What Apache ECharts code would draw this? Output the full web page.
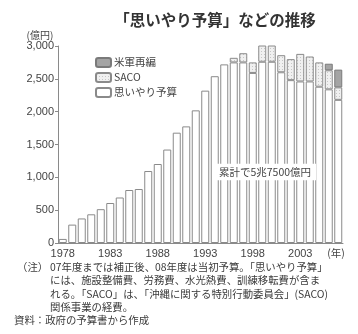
<!DOCTYPE html>
<html>
<head>
<meta charset="utf-8">
<script src="https://cdn.jsdelivr.net/npm/echarts@6/dist/echarts.min.js"></script>
<style>
  html, body { margin: 0; padding: 0; background: #fff; }
  #chart { width: 358px; height: 334px; }
</style>
</head>
<body>
<div id="chart"></div>
<script>
// Fiscal years shown on the category axis
const years = ['1978','1979','1980','1981','1982','1983','1984','1985','1986','1987',
               '1988','1989','1990','1991','1992','1993','1994','1995','1996','1997',
               '1998','1999','2000','2001','2002','2003','2004','2005','2006','2007'];

// 思いやり予算 (億円)
const omoiyari = [62, 280, 374, 437, 515, 609, 693, 807, 822, 1096,
                  1203, 1423, 1680, 1776, 2020, 2320, 2540, 2720, 2750, 2750,
                  2590, 2760, 2760, 2600, 2480, 2460, 2460, 2380, 2340, 2180];

// SACO関係経費 (億円)
const saco = ['-', '-', '-', '-', '-', '-', '-', '-', '-', '-',
              '-', '-', '-', '-', '-', '-', '-', '-', 70, 140,
              160, 250, 270, 260, 320, 420, 380, 370, 290, 190];

// 米軍再編関係経費 (億円)
const saihen = ['-', '-', '-', '-', '-', '-', '-', '-', '-', '-',
                '-', '-', '-', '-', '-', '-', '-', '-', '-', '-',
                '-', '-', '-', '-', '-', '-', '-', '-', 100, 270];

const yTicks = { min: 0, max: 3000, step: 500 };

const notes = [
  '07年度までは補正後、08年度は当初予算。「思いやり予算」',
  'には、施設整備費、労務費、水光熱費、訓練移転費が含ま',
  'れる。「SACO」は、「沖縄に関する特別行動委員会」(SACO)',
  '関係事業の経費。'
];

const JP = '"Noto Sans CJK JP", "Noto Sans", sans-serif';
const NUM = '"Liberation Sans", Arial, sans-serif';
const edge = '#8a8a8a';

// Stippled fill for the SACO segments
function stipple() {
  const c = document.createElement('canvas');
  c.width = 3; c.height = 3;
  const g = c.getContext('2d');
  g.fillStyle = '#f0f0f0';
  g.fillRect(0, 0, 3, 3);
  g.fillStyle = '#c6c6c6';
  g.fillRect(0, 0, 1, 1);
  return { image: c, repeat: 'repeat' };
}

const chart = echarts.init(document.getElementById('chart'), null, { renderer: 'canvas' });

const noteGraphics = notes.map((line, i) => ({
  type: 'text', left: 50, top: 262 + i * 13.3, z: 100,
  style: { text: line, fill: '#3a3a3a', font: '10.4px ' + JP }
}));

chart.setOption({
  animation: false,
  backgroundColor: '#fff',
  grid: { left: 58, right: 15, top: 46, bottom: 91 },
  legend: {
    orient: 'vertical', left: 90, top: 52,
    itemWidth: 15, itemHeight: 9, itemGap: 4,
    data: ['米軍再編', 'SACO', '思いやり予算'],
    textStyle: { fontFamily: JP, fontSize: 10.5, color: '#444', padding: [0, 0, 0, -2] }
  },
  xAxis: {
    type: 'category', data: years,
    axisLine: { lineStyle: { color: edge, width: 1 } },
    axisTick: { show: false },
    axisLabel: { interval: 4, margin: 5, fontFamily: NUM, fontSize: 11, color: '#444' }
  },
  yAxis: {
    type: 'value', min: yTicks.min, max: yTicks.max, interval: yTicks.step,
    axisLine: { show: true, lineStyle: { color: edge, width: 1 } },
    axisTick: { show: true, length: 3, lineStyle: { color: edge } },
    splitLine: { show: false },
    axisLabel: {
      margin: 4, fontFamily: NUM, fontSize: 11, color: '#444',
      formatter: v => v.toLocaleString('en-US')
    }
  },
  series: [
    {
      name: '思いやり予算', type: 'bar', stack: 'total', data: omoiyari, barWidth: 8,
      itemStyle: { color: '#ffffff', borderColor: edge, borderWidth: 1 }
    },
    {
      name: 'SACO', type: 'bar', stack: 'total', data: saco, barWidth: 8,
      itemStyle: { color: stipple(), borderColor: edge, borderWidth: 1 }
    },
    {
      name: '米軍再編', type: 'bar', stack: 'total', data: saihen, barWidth: 8,
      itemStyle: { color: '#a4a4a4', borderColor: '#7a7a7a', borderWidth: 1 }
    }
  ],
  graphic: [
    {
      type: 'text', x: 215, y: 20, z: 100,
      style: { text: '「思いやり予算」などの推移', fill: '#333', font: 'bold 15.5px ' + JP,
               textAlign: 'center', textVerticalAlign: 'middle' }
    },
    {
      type: 'text', x: 40, y: 35, z: 100,
      style: { text: '(億円)', fill: '#444', font: '10px ' + JP,
               textAlign: 'center', textVerticalAlign: 'middle' }
    },
    {
      type: 'text', x: 336, y: 253, z: 100,
      style: { text: '(年)', fill: '#444', font: '10.5px ' + JP,
               textAlign: 'center', textVerticalAlign: 'middle' }
    },
    {
      type: 'text', x: 265, y: 172, z: 100,
      style: { text: '累計で5兆7500億円', fill: '#444', font: '10.5px ' + JP,
               textAlign: 'center', textVerticalAlign: 'middle',
               backgroundColor: '#fff', padding: [3, 5] }
    },
    {
      type: 'text', left: 17, top: 262, z: 100,
      style: { text: '（注）', fill: '#3a3a3a', font: '10.4px ' + JP }
    },
    ...noteGraphics,
    {
      type: 'text', left: 14, top: 315, z: 100,
      style: { text: '資料：政府の予算書から作成', fill: '#3a3a3a', font: '10.4px ' + JP }
    }
  ]
});
</script>
</body>
</html>
